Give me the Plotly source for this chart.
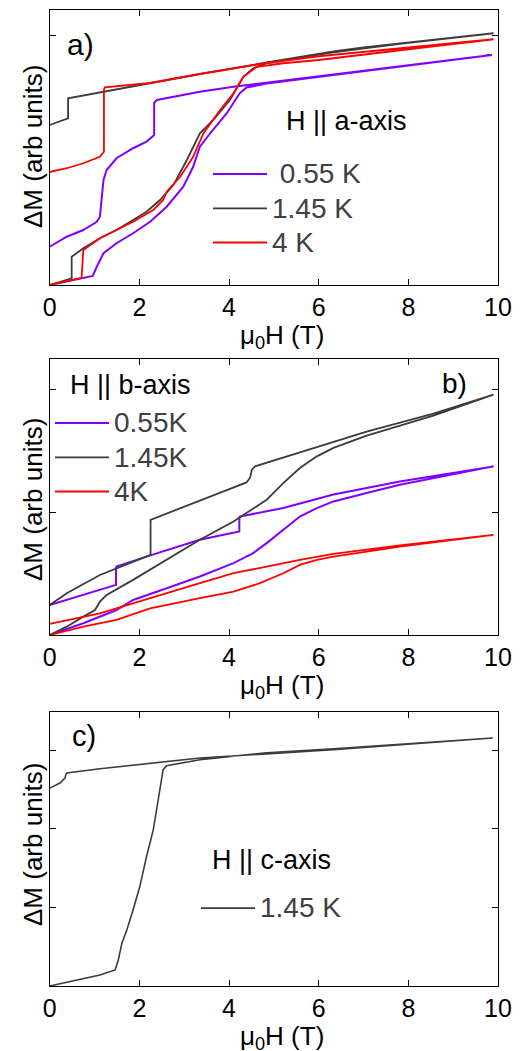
import plotly.graph_objects as go

# ---------------- data (field in T, magnetisation step in arb. units) ----------------
# panel a) H || a-axis ; each list = up-sweep (0 -> 10 T) followed by down-sweep (10 -> 0 T)
Ha_055 = [0, 0.96, 1.05, 1.20, 1.49, 1.86, 2.24, 2.61, 2.98, 3.20, 3.35, 3.58, 3.95, 4.24, 4.39, 4.84, 6.33, 7.81, 9.86,
          7.81, 6.33, 4.84, 4.10, 3.35, 2.76, 2.39, 2.33, 2.33, 2.16, 1.86, 1.49, 1.27, 1.20, 1.16, 1.12, 1.05, 0.75, 0.38, 0.0]
Ma_055 = [0, 0.036, 0.073, 0.127, 0.167, 0.207, 0.253, 0.313, 0.393, 0.473, 0.553, 0.607, 0.687, 0.767, 0.790, 0.806, 0.840, 0.873, 0.920,
          0.873, 0.840, 0.807, 0.793, 0.773, 0.753, 0.740, 0.728, 0.600, 0.573, 0.547, 0.507, 0.460, 0.420, 0.340, 0.273, 0.253, 0.220, 0.193, 0.153]

Ha_145 = [0, 0.49, 0.49, 0.75, 1.12, 1.49, 1.86, 2.16, 2.46, 2.76, 3.06, 3.35, 3.65, 4.02, 4.32, 4.54, 4.84, 5.5, 6.33, 7.0, 7.81, 8.8, 9.90,
          8.8, 7.81, 7.0, 6.33, 5.5, 4.84, 3.35, 2.24, 1.23, 0.41, 0.41, 0.30, 0.0]
Ma_145 = [0, 0.027, 0.113, 0.147, 0.187, 0.220, 0.260, 0.293, 0.340, 0.400, 0.500, 0.607, 0.660, 0.740, 0.833, 0.867, 0.887, 0.908, 0.931, 0.947, 0.965, 0.985, 1.007,
          0.988, 0.968, 0.950, 0.934, 0.911, 0.890, 0.844, 0.808, 0.776, 0.747, 0.667, 0.660, 0.640]

Ha_4 = [0, 0.68, 0.71, 0.75, 1.12, 1.86, 2.31, 2.53, 2.61, 2.91, 3.20, 3.43, 3.80, 4.10, 4.32, 4.62, 5.21, 6.0, 7.0, 8.0, 9.90,
        8.0, 7.0, 6.0, 4.84, 3.35, 2.24, 1.23, 1.21, 1.21, 1.12, 0.75, 0.38, 0.0]
Ma_4 = [0, 0.027, 0.028, 0.140, 0.187, 0.253, 0.300, 0.340, 0.373, 0.433, 0.513, 0.607, 0.700, 0.767, 0.833, 0.873, 0.887, 0.900, 0.920, 0.943, 0.983,
        0.950, 0.933, 0.915, 0.888, 0.844, 0.808, 0.791, 0.780, 0.533, 0.513, 0.487, 0.467, 0.452]

# panel b) H || b-axis
Hb_055 = [0, 0.75, 1.49, 1.86, 2.61, 3.35, 4.10, 4.54, 4.84, 5.21, 5.58, 5.96, 6.33, 7.07, 7.81, 9.90,
          7.81, 6.33, 5.21, 4.24, 4.23, 4.23, 3.35, 2.28, 1.49, 1.48, 1.48, 0.0]
Mb_055 = [0, 0.096, 0.204, 0.286, 0.382, 0.477, 0.586, 0.668, 0.750, 0.859, 0.967, 1.036, 1.090, 1.159, 1.226, 1.376,
          1.253, 1.147, 1.036, 0.967, 0.940, 0.845, 0.777, 0.654, 0.558, 0.548, 0.409, 0.245]

Hb_145 = [0, 0.38, 0.75, 1.01, 1.12, 1.27, 1.86, 2.61, 3.35, 4.10, 4.84, 5.21, 5.58, 5.96, 6.33, 7.07, 7.81, 8.56, 9.90,
          8.56, 7.07, 5.58, 4.58, 4.51, 4.47, 4.39, 3.35, 2.28, 2.25, 2.25, 1.86, 1.12, 0.38, 0.0]
Mb_145 = [0, 0.068, 0.150, 0.204, 0.272, 0.327, 0.450, 0.613, 0.777, 0.926, 1.104, 1.240, 1.363, 1.458, 1.527, 1.627, 1.709, 1.791, 1.962,
          1.807, 1.660, 1.488, 1.376, 1.349, 1.284, 1.245, 1.096, 0.948, 0.940, 0.654, 0.599, 0.490, 0.341, 0.245]

Hb_4 = [0, 0.75, 1.49, 2.24, 3.35, 4.10, 4.69, 5.21, 5.58, 5.96, 6.33, 7.81, 9.90,
        7.81, 6.33, 5.58, 4.84, 4.10, 3.35, 2.61, 1.86, 1.12, 0.0]
Mb_4 = [0, 0.068, 0.123, 0.218, 0.300, 0.354, 0.423, 0.504, 0.572, 0.613, 0.640, 0.722, 0.818,
        0.732, 0.662, 0.613, 0.558, 0.504, 0.423, 0.341, 0.259, 0.177, 0.090]

# panel c) H || c-axis
Hc_145 = [0, 0.75, 1.12, 1.46, 1.53, 1.61, 1.72, 1.86, 2.01, 2.16, 2.31, 2.42, 2.53, 2.61, 3.35, 4.84, 6.33, 9.88,
          6.33, 3.35, 1.12, 0.38, 0.36, 0.34, 0.23, 0.0]
Mc_145 = [0, 0.098, 0.140, 0.204, 0.331, 0.544, 0.713, 0.968, 1.265, 1.647, 1.987, 2.369, 2.752, 2.803, 2.879, 2.968, 3.019, 3.155,
          3.006, 2.900, 2.765, 2.709, 2.688, 2.646, 2.582, 2.518]

x_ticks = [0, 2, 4, 6, 8, 10]

PURPLE = "#8000ff"
GREY = "#3c3c3c"
RED = "#ff0000"
FONT = "Liberation Sans, Arial, sans-serif"

fig = go.Figure()

def leg_name(s):
    return '<span style="font-size:28px">' + s + '</span>'

def add(x, y, name, color, width, xa, ya, leg):
    fig.add_trace(go.Scatter(x=x, y=y, mode="lines", name=leg_name(name),
                             line=dict(color=color, width=width),
                             xaxis=xa, yaxis=ya, legend=leg))

add(Ha_055, Ma_055, " 0.55 K", PURPLE, 2, "x", "y", "legend")
add(Ha_145, Ma_145, "1.45 K", GREY, 1.8, "x", "y", "legend")
add(Ha_4, Ma_4, "4 K", RED, 1.8, "x", "y", "legend")

add(Hb_055, Mb_055, "0.55K", PURPLE, 2, "x2", "y2", "legend2")
add(Hb_145, Mb_145, "1.45K", GREY, 1.8, "x2", "y2", "legend2")
add(Hb_4, Mb_4, "4K", RED, 1.8, "x2", "y2", "legend2")

add(Hc_145, Mc_145, "1.45 K", GREY, 1.6, "x3", "y3", "legend3")

# the page's body keeps an 8 px margin, so the figure is drawn 8 px smaller
OFF = 8
W, Hgt = 522 - OFF, 1051 - OFF

def px(x):
    return (x - OFF) / W

def py(y):
    return 1 - (y - OFF) / Hgt

xl, xr = px(49.7), px(498)
doms = [(10, 285), (359.3, 635), (711.7, 986)]
yr = [[0, 1.1], [0, 2.25], [0, 3.49]]
yt = [[1.0], [0, 1, 2], [0, 1, 2, 3]]

axis_common = dict(showline=True, linecolor="black", linewidth=1, mirror="ticks",
                   ticks="inside", ticklen=6, tickcolor="black", showgrid=False, zeroline=False,
                   automargin=False)

layout = dict(template="none", width=W, height=Hgt,
              margin=dict(l=0, r=0, t=0, b=0, pad=0, autoexpand=False),
              paper_bgcolor="white", plot_bgcolor="white", showlegend=True,
              font=dict(family=FONT, color="black"))
for i, (t, b) in enumerate(doms):
    s = "" if i == 0 else str(i + 1)
    layout["xaxis" + s] = dict(axis_common, domain=[xl, xr], range=[0, 10], tickvals=x_ticks,
                               tickfont=dict(size=25, family=FONT, color="black"),
                               anchor="y" + s)
    layout["yaxis" + s] = dict(axis_common, domain=[py(b), py(t)], range=yr[i], tickvals=yt[i],
                               showticklabels=False, anchor="x" + s)

leg_common = dict(font=dict(size=24, family=FONT, color="#404040"), bgcolor="rgba(0,0,0,0)",
                  borderwidth=0, xanchor="left", yanchor="top", itemwidth=54, tracegroupgap=0)
layout["legend"] = dict(leg_common, x=px(208), y=py(152))
layout["legend2"] = dict(leg_common, x=px(50), y=py(401))
layout["legend3"] = dict(leg_common, x=px(196), y=py(886))

fig.update_layout(**layout)

ann = []
def text(x, y, s, size, color="black", angle=0):
    ann.append(dict(x=px(x), y=py(y), xref="paper", yref="paper", text=s, showarrow=False,
                    xanchor="center", yanchor="middle", textangle=angle,
                    font=dict(size=size, family=FONT, color=color)))

text(80, 45, "a)", 30)
text(346, 121, "H || a-axis", 27)
text(454, 383, "b)", 28)
text(130.5, 385, "H || b-axis", 27)
text(84, 736, "c)", 29)
text(271.7, 860, "H || c-axis", 27)
for yc in (147, 500, 845):
    text(33, yc, "ΔM (arb units)", 26, angle=-90)
for yb in (285, 635, 986):
    text(281.7, yb + 51, "μ<sub>0</sub>H (T)", 26)

fig.update_layout(annotations=ann)
fig.write_html("out.html")
